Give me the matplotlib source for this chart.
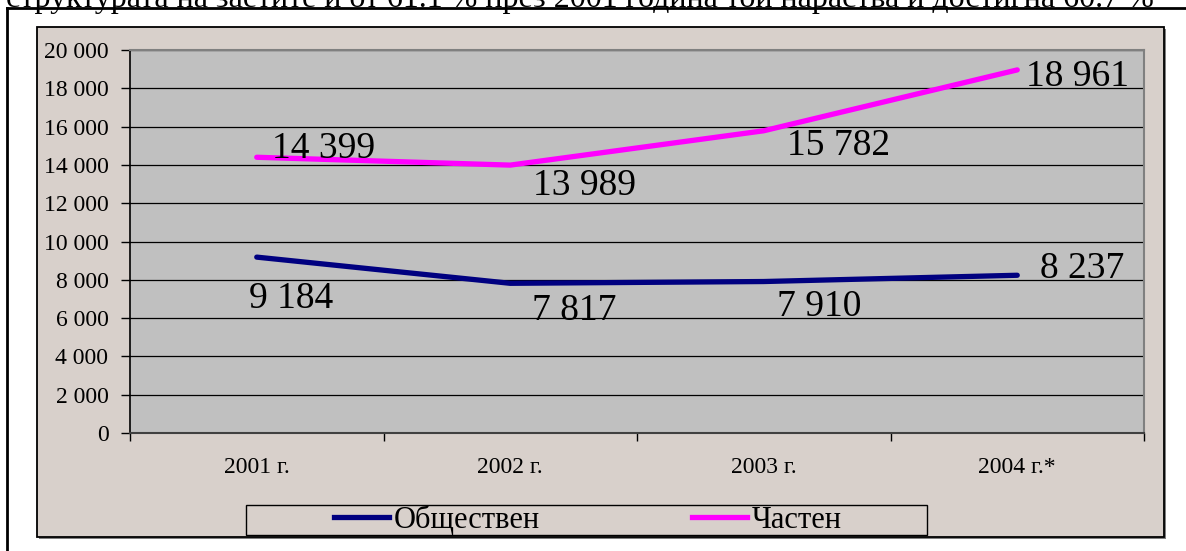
import matplotlib.pyplot as plt
from matplotlib.patches import Rectangle
from matplotlib.lines import Line2D
from matplotlib.ticker import FuncFormatter

plt.rcParams['font.family'] = ['Liberation Serif', 'DejaVu Serif']

years = ['2001 г.', '2002 г.', '2003 г.', '2004 г.*']
public = [9184, 7817, 7910, 8237]
private = [14399, 13989, 15782, 18961]
series_names = ['Обществен', 'Частен']
top_text = 'структурата на заетите и от 61.1 % през 2001 година той нараства и достигна 60.7 %'

# label offsets in pixels (dx, dy) from each point, text left/baseline
pub_off = [(-8, -51), (22, -37), (13, -34), (23, -3)]
priv_off = [(15, -1), (23, -30), (23, -24), (9, -16)]

W, H = 1186, 551
fig = plt.figure(figsize=(W / 100, H / 100), dpi=100)
fig.patch.set_facecolor('white')

def fx(px):
    return px / W

def fy(py):
    return 1 - py / H

# clipped line of document text at the top
fig.text(fx(6), fy(7), top_text, fontsize=23, va='baseline', ha='left', zorder=0)

# outer frame (top and left)
fig.add_artist(Line2D([fx(7), 1], [fy(8), fy(8)], color='black', lw=2, zorder=0))
fig.add_artist(Line2D([fx(7), fx(7)], [fy(8), 0], color='black', lw=2, zorder=0))

# chart area
fig.add_artist(Rectangle((fx(39), fy(539)), fx(1166) - fx(39), fy(29) - fy(539),
                         facecolor='#808080', edgecolor='none', zorder=-2))
fig.add_artist(Rectangle((fx(37), fy(537)), fx(1164) - fx(37), fy(27) - fy(537),
                         facecolor='#d8d0cb', edgecolor='black', lw=1.3, zorder=-1))

ax = fig.add_axes([fx(130), fy(433), fx(1144) - fx(130), fy(50) - fy(433)])
ax.set_zorder(2)
ax.set_facecolor('#c0c0c0')

x = list(range(len(years)))
ax.plot(x, public, color='#000080', lw=3.8, solid_capstyle='round', zorder=3)
ax.plot(x, private, color='#ff00ff', lw=3.8, solid_capstyle='round', zorder=3)

for vals, offs in ((public, pub_off), (private, priv_off)):
    for i, v in enumerate(vals):
        dx, dy = offs[i]
        ax.annotate(f'{v:,}'.replace(',', ' '), (i, v),
                    xytext=(dx * 0.72, dy * 0.72), textcoords='offset points',
                    ha='left', va='baseline', fontsize=27, zorder=4)

ax.set_xlim(-0.5, len(years) - 0.5)
ax.set_ylim(0, 20000)
ax.set_yticks(range(0, 20001, 2000))
ax.yaxis.set_major_formatter(FuncFormatter(lambda v, p: f'{int(v):,}'.replace(',', ' ')))
ax.yaxis.grid(True, color='black', lw=0.9)
ax.set_axisbelow(True)

ax.set_xticks(x)
ax.set_xticklabels(years)
ax.set_xticks([i - 0.5 for i in range(len(years) + 1)], minor=True)
ax.tick_params(axis='x', which='major', length=0, pad=17, labelsize=17)
ax.tick_params(axis='x', which='minor', length=6, width=1, color='black')
ax.tick_params(axis='y', length=6.5, width=1, pad=9, labelsize=17, color='black')

ax.spines['left'].set_color('black')
ax.spines['left'].set_linewidth(1.2)
ax.spines['bottom'].set_color('#404040')
ax.spines['bottom'].set_linewidth(1.5)
ax.spines['top'].set_color('#808080')
ax.spines['right'].set_color('#808080')
ax.spines['top'].set_linewidth(1.5)
ax.spines['right'].set_linewidth(1.5)

# legend
fig.add_artist(Rectangle((fx(246), fy(535)), fx(927) - fx(246), fy(505) - fy(535),
                         facecolor='none', edgecolor='black', lw=1, zorder=1))
handles = [Line2D([], [], color='#000080', lw=3.8), Line2D([], [], color='#ff00ff', lw=3.8)]
fig.legend(handles, series_names, loc='center', bbox_to_anchor=(fx(588), fy(520)),
           ncol=2, frameon=False, fontsize=22, handlelength=1.8, handletextpad=0.15,
           columnspacing=5.0)

fig.savefig('out.png', dpi=100)
